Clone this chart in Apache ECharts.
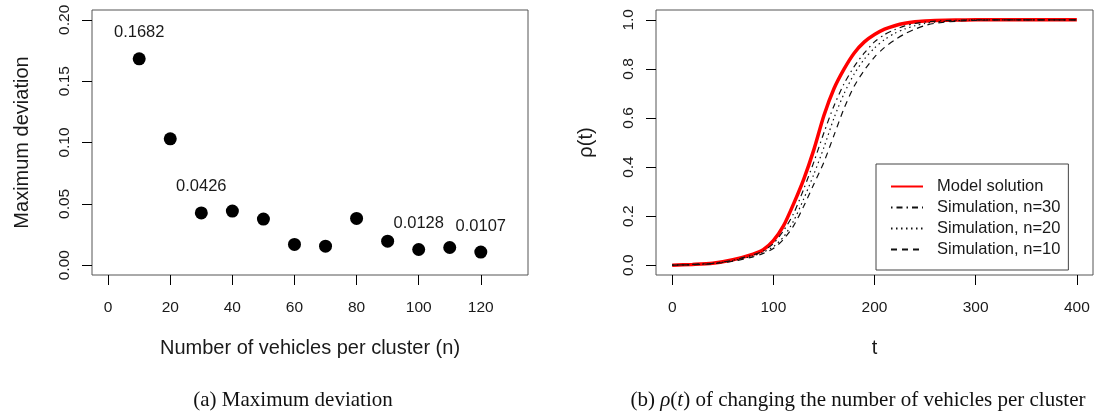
<!DOCTYPE html>
<html>
<head>
<meta charset="utf-8">
<script src="https://cdn.jsdelivr.net/npm/echarts@6/dist/echarts.min.js"></script>
<style>
  html, body { margin: 0; padding: 0; background: #fff; }
  #chart { width: 1095px; height: 416px; }
</style>
</head>
<body>
<div id="chart"></div>
<script>
// (a) max deviation per cluster size
const clusterSizes = [10, 20, 30, 40, 50, 60, 70, 80, 90, 100, 110, 120]
const maxDeviation = [0.1682, 0.103, 0.0426, 0.0441, 0.0376, 0.0169, 0.0155, 0.0381, 0.0196, 0.0128, 0.0144, 0.0107]
const deviationLabels = ['0.1682', '', '0.0426', '', '', '', '', '', '', '0.0128', '', '0.0107']
const nTicks = [0, 20, 40, 60, 80, 100, 120]
const devTicks = [0, 0.05, 0.1, 0.15, 0.2]

// (b) rho(t), model vs simulations
const tValues = [0, 20, 40, 60, 80, 90, 100, 110, 120, 130, 140, 150, 160, 170, 180, 190, 200, 210, 220, 230, 240, 250, 260, 280, 300, 325, 350, 400]
const modelSolution = [0, 0.003, 0.008, 0.022, 0.045, 0.063, 0.10, 0.16, 0.25, 0.35, 0.47, 0.61, 0.72, 0.80, 0.865, 0.91, 0.94, 0.962, 0.976, 0.986, 0.992, 0.995, 0.997, 0.999, 1, 1, 1, 1]
const simN30 = [0, 0.003, 0.008, 0.020, 0.042, 0.058, 0.088, 0.14, 0.21, 0.31, 0.42, 0.54, 0.65, 0.74, 0.81, 0.865, 0.91, 0.94, 0.96, 0.975, 0.985, 0.991, 0.995, 0.998, 1, 1, 1, 1]
const simN20 = [0, 0.003, 0.007, 0.018, 0.038, 0.053, 0.075, 0.115, 0.18, 0.27, 0.37, 0.48, 0.60, 0.70, 0.78, 0.84, 0.885, 0.92, 0.945, 0.963, 0.976, 0.985, 0.991, 0.996, 0.999, 1, 1, 1]
const simN10 = [0, 0.002, 0.006, 0.016, 0.034, 0.048, 0.068, 0.105, 0.16, 0.24, 0.33, 0.42, 0.53, 0.64, 0.73, 0.795, 0.848, 0.888, 0.918, 0.943, 0.962, 0.977, 0.986, 0.994, 0.998, 1, 1, 1]
const tTicks = [0, 100, 200, 300, 400]
const rhoTicks = [0, 0.2, 0.4, 0.6, 0.8, 1]

const font = 'Liberation Sans, Arial, sans-serif'
const serif = 'Liberation Serif, Times New Roman, serif'
const ink = '#1a1a1a'

const chart = echarts.init(document.getElementById('chart'))

const zip = (xs, ys) => xs.map((x, i) => [x, ys[i]])

function xAxisR(gridIndex, min, max, ticks, name) {
  return {
    type: 'value', gridIndex, min, max, name,
    nameLocation: 'middle', nameGap: 63,
    nameTextStyle: { fontFamily: font, fontSize: 20, color: ink },
    axisLine: { show: false, onZero: false },
    splitLine: { show: false },
    axisTick: { show: true, length: 10, customValues: ticks, lineStyle: { color: '#000', width: 1 } },
    axisLabel: { customValues: ticks, margin: 25, fontFamily: font, fontSize: 15.5, color: ink },
  }
}

function yAxisR(gridIndex, min, max, ticks, digits, name) {
  return {
    type: 'value', gridIndex, min, max, name,
    nameLocation: 'middle', nameGap: 60,
    nameTextStyle: { fontFamily: font, fontSize: 20, color: ink },
    axisLine: { show: false, onZero: false },
    splitLine: { show: false },
    axisTick: { show: true, length: 10, customValues: ticks, lineStyle: { color: '#000', width: 1 } },
    axisLabel: {
      customValues: ticks, margin: 19, rotate: 90,
      fontFamily: font, fontSize: 15.5, color: ink,
      formatter: (v) => v.toFixed(digits),
    },
  }
}

function simLine(name, data, dash) {
  return {
    name, type: 'line', xAxisIndex: 1, yAxisIndex: 1,
    data: zip(tValues, data),
    symbol: 'none', smooth: 0.25,
    itemStyle: { color: 'rgba(0,0,0,0)' },
    lineStyle: { color: '#111', width: 1.2, type: dash },
    z: 3,
  }
}

const option = {
  animation: false,
  backgroundColor: '#fff',
  grid: [
    { left: 92, top: 10, width: 436, height: 265, show: true, borderColor: '#555', borderWidth: 1 },
    { left: 656, top: 10, width: 437, height: 265, show: true, borderColor: '#555', borderWidth: 1 },
  ],
  xAxis: [
    xAxisR(0, -5.2, 135.2, nTicks, 'Number of vehicles per cluster (n)'),
    xAxisR(1, -16, 416, tTicks, 't'),
  ],
  yAxis: [
    yAxisR(0, -0.008, 0.208, devTicks, 2, 'Maximum deviation'),
    yAxisR(1, -0.04, 1.04, rhoTicks, 1, 'ρ(t)'),
  ],
  legend: {
    data: ['Model solution', 'Simulation, n=30', 'Simulation, n=20', 'Simulation, n=10'],
    orient: 'vertical', left: 876, top: 164,
    padding: [14, 8, 12, 14],
    itemWidth: 32, itemHeight: 14, itemGap: 4,
    borderColor: '#444', borderWidth: 1,
    align: 'left',
    itemStyle: { opacity: 0 },
    textStyle: { fontFamily: font, fontSize: 16.5, color: ink, padding: [0, 0, 0, 9] },
  },
  series: [
    {
      type: 'scatter', xAxisIndex: 0, yAxisIndex: 0,
      data: zip(clusterSizes, maxDeviation),
      symbolSize: 13,
      itemStyle: { color: '#000', opacity: 1 },
      label: {
        show: true, position: 'top', distance: 11,
        fontFamily: font, fontSize: 16.5, color: ink,
        formatter: (p) => deviationLabels[p.dataIndex],
      },
    },
    {
      name: 'Model solution', type: 'line', xAxisIndex: 1, yAxisIndex: 1,
      data: zip(tValues, modelSolution),
      symbol: 'none', smooth: 0.25,
      itemStyle: { color: 'rgba(0,0,0,0)' },
      lineStyle: { color: '#ff0000', width: 3.5 },
      z: 2,
    },
    simLine('Simulation, n=30', simN30, [1.5, 4, 6, 4]),
    simLine('Simulation, n=20', simN20, [1.5, 3.5]),
    simLine('Simulation, n=10', simN10, [6, 5]),
  ],
  graphic: [
    {
      type: 'text', x: 293, y: 400,
      style: { text: '(a) Maximum deviation', fontFamily: serif, fontSize: 21, fill: '#111', align: 'center', verticalAlign: 'middle' },
    },
    {
      type: 'text', x: 858, y: 400,
      style: {
        text: '(b) {i|ρ}({i|t}) of changing the number of vehicles per cluster',
        rich: { i: { fontStyle: 'italic', fontFamily: serif, fontSize: 21, fill: '#111' } },
        fontFamily: serif, fontSize: 21, fill: '#111', align: 'center', verticalAlign: 'middle',
      },
    },
  ],
}

chart.setOption(option)
</script>
</body>
</html>
